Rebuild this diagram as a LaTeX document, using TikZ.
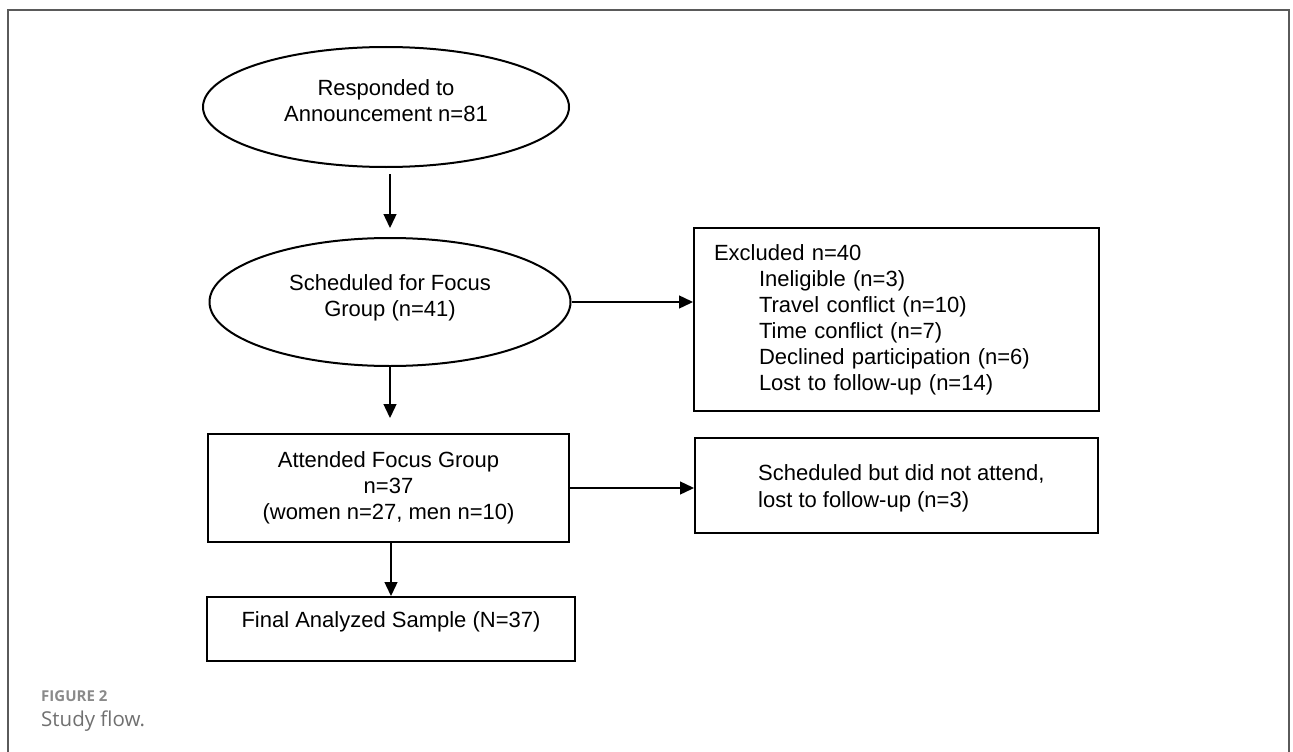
\documentclass[tikz,border=0pt]{standalone}
\usepackage{fontspec}
\setmainfont{Liberation Sans}
\newfontfamily\capfont{Open Sans}
\usetikzlibrary{shapes.geometric,arrows.meta}
\definecolor{framegray}{HTML}{5A5A5A}
\definecolor{capgray}{HTML}{8A8A8A}
\definecolor{capgraydark}{HTML}{707070}
\newcommand{\ovaltext}[1]{\raisebox{4pt}[\height][\depth]{\begin{tabular}{@{}c@{}}#1\end{tabular}}}
\begin{document}
\begin{tikzpicture}[x=1pt,y=-1pt,
  every node/.style={font=\fontsize{22}{26}\selectfont, inner sep=0pt},
  oval/.style={ellipse, draw, line width=2pt, align=center},
  box/.style={rectangle, draw, line width=2pt},
  arr/.style={line width=1.4pt, -{Triangle[length=14pt,width=13pt]}},
]
\useasboundingbox (0,0) rectangle (1293,752);
\draw[framegray, line width=1.2pt] (8,770) -- (8,10) -- (1289,10) -- (1289,770);

\node[oval, minimum width=366pt, minimum height=120pt] (e1) at (386,107) {\ovaltext{Responded to\\Announcement n=81}};
\node[oval, minimum width=361pt, minimum height=128pt] (e2) at (390,302) {\ovaltext{Scheduled for Focus\\Group (n=41)}};
\node[box, minimum width=361pt, minimum height=108pt, align=center] (att) at (388.5,488) {Attended Focus Group\\n=37\\(women n=27, men n=10)};
\node[box, minimum width=368pt, minimum height=64pt] (fin) at (391,629) {\raisebox{7pt}[\height][\depth]{Final Analyzed Sample (N=37)}};

\node[box, minimum width=405pt, minimum height=183pt, text width=365pt, inner xsep=20pt, align=left] (excl) at (896.5,319.5)
  {Excluded n=40\\
   \hspace*{45pt}Ineligible (n=3)\\
   \hspace*{45pt}Travel conflict (n=10)\\
   \hspace*{45pt}Time conflict (n=7)\\
   \hspace*{45pt}Declined participation (n=6)\\
   \hspace*{45pt}Lost to follow-up (n=14)};

\node[box, minimum width=403pt, minimum height=95pt] (sched) at (896.5,485.5) {};
\node[anchor=west, align=left, font=\fontsize{22}{27}\selectfont] (schedtxt) at ([xshift=64pt,yshift=-3pt]sched.west) {Scheduled but did not attend,\\lost to follow-up (n=3)};

\draw[arr, shorten <=6pt, shorten >=9pt] (e2.north |- e1.south) -- (e2.north);
\draw[arr] (e2.east) -- (e2.east -| excl.west);
\draw[arr, shorten >=15pt] (e2.south) -- (e2.south |- att.north);
\draw[arr] (att.east) -- (att.east -| sched.west);
\draw[arr] (fin.north |- att.south) -- (fin.north);

\node[anchor=base west, font=\capfont\bfseries\fontsize{15}{17}\selectfont, text=capgray] (figlabel) at (41,701.5) {FIGURE 2};
\node[anchor=base west, font=\capfont\fontsize{20.5}{24}\selectfont, text=capgraydark] (caption) at (41,726) {Study flow.};
\end{tikzpicture}
\end{document}
